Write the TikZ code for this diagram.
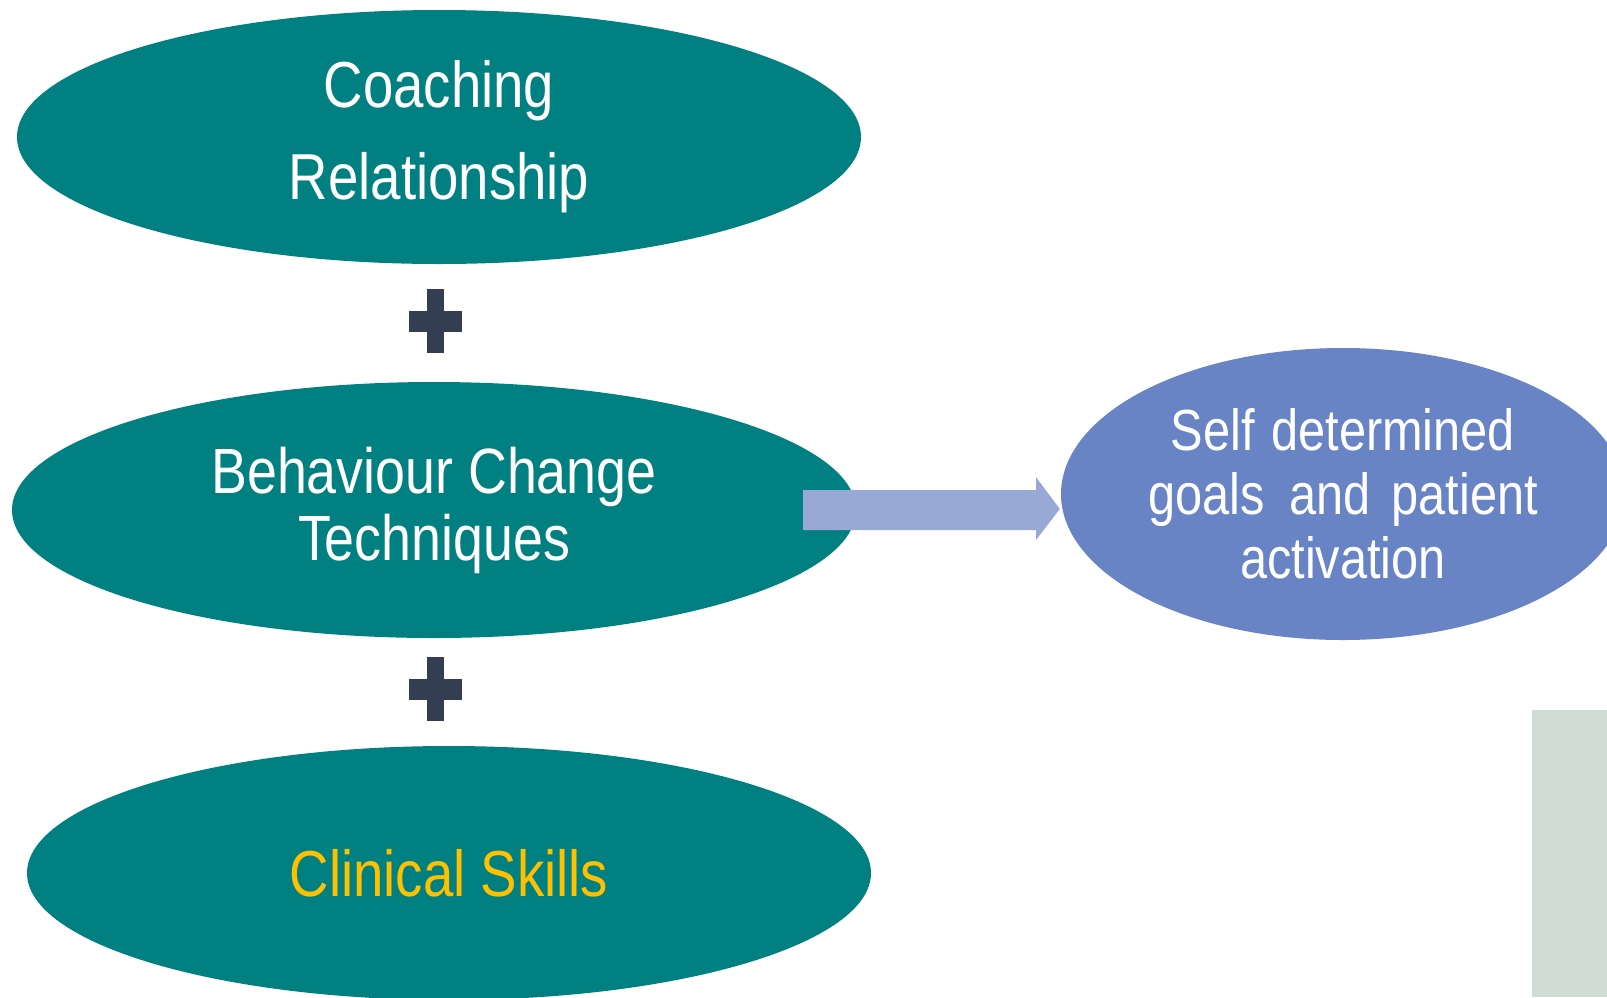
\documentclass[tikz,border=0pt]{standalone}
\usepackage{fontspec}
\setmainfont[FakeStretch=0.84]{Liberation Sans}
\usetikzlibrary{shapes.geometric,calc}
\definecolor{tealc}{RGB}{0,128,128}
\definecolor{bluec}{RGB}{104,132,197}
\definecolor{arrowc}{RGB}{152,169,213}
\definecolor{plusc}{RGB}{51,63,80}
\definecolor{grayc}{RGB}{208,219,212}
\definecolor{yellowc}{RGB}{255,192,0}
\tikzset{
  tealell/.style={ellipse, fill=tealc, draw=none, inner sep=0pt, text=white, align=center},
  blueell/.style={ellipse, fill=bluec, draw=none, inner sep=0pt, text=white, align=center},
  plusshape/.style={fill=plusc, draw=none},
  arrowshape/.style={fill=arrowc, draw=none},
}
\begin{document}
\begin{tikzpicture}[x=1pt,y=-1pt]
\useasboundingbox (0,0) rectangle (1607,997);
\clip (0,0) rectangle (1607,997);
\fill[grayc] (1532,710) rectangle (1607,997);
\node[tealell, minimum width=844pt, minimum height=254pt,
      font=\fontsize{65}{92}\selectfont] (coach) at (439,137) {Coaching\\Relationship};
\node[tealell, minimum width=844pt, minimum height=256pt,
      font=\fontsize{64}{67}\selectfont] (bct) at (434,510) {Behaviour Change\\Techniques};
\node[tealell, minimum width=844pt, minimum height=254pt, text=yellowc,
      font=\fontsize{65}{78}\selectfont] (clin) at (449,873) {Clinical Skills};
\node[blueell, minimum width=564pt, minimum height=292pt,
      font=\fontsize{58}{64}\selectfont] (goals) at (1343,494) {Self\hspace{0.05em} determined\\goals\hspace{0.2em} and\hspace{0.12em} patient\\activation};
% plus signs
\foreach \cy [count=\i] in {321,689} {
  \fill[plusshape] (427,{\cy-32}) rectangle (444,{\cy+32});
  \fill[plusshape] (409,{\cy-10.5}) rectangle (462,{\cy+10.5});
}
% block arrow
\coordinate (astart) at ($(bct.center)+(369,0)$);
\coordinate (atip) at ($(goals.west)+(-1,15)$);
\fill[arrowshape] (astart |- 0,490) -- (1036,490) -- (1036,477) -- (atip) -- (1036,540) -- (1036,530) -- (astart |- 0,530) -- cycle;
\end{tikzpicture}
\end{document}
